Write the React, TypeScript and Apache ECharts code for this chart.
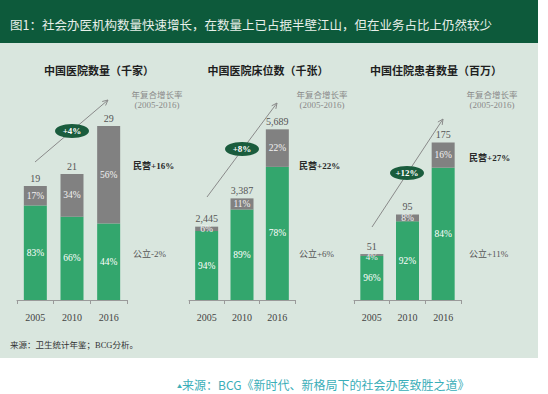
import React, { useEffect, useRef } from "react";
import * as echarts from "echarts";

const years = ["2005", "2010", "2016"];

const hospitalTotals = [19, 21, 29];
const hospitalPublicPct = [83, 66, 44];
const hospitalPrivatePct = [17, 34, 56];

const bedTotals = [2445, 3387, 5689];
const bedPublicPct = [94, 89, 78];
const bedPrivatePct = [6, 11, 22];

const patientTotals = [51, 95, 175];
const patientPublicPct = [96, 92, 84];
const patientPrivatePct = [4, 8, 16];

const panelTitles = ["中国医院数量（千家）", "中国医院床位数（千张）", "中国住院患者数量（百万）"];
const cagrTotal = ["+4%", "+8%", "+12%"];
const cagrPrivate = ["民营+16%", "民营+22%", "民营+27%"];
const cagrPublic = ["公立-2%", "公立+6%", "公立+11%"];

const GREEN = "#33a66d";
const GREY = "#818181";
const DARK = "#1a5c3d";
const SERIF = "'Liberation Serif', 'Noto Sans CJK SC', serif";
const CJK = "'Noto Sans CJK SC', sans-serif";

function fmt(n: number) {
  return n.toLocaleString("en-US");
}

export default function App() {
  const ref = useRef<HTMLDivElement>(null);
  useEffect(() => {
    if (!ref.current) return;
    const chart = echarts.init(ref.current, null, { renderer: "svg" });

    const panels = [
      { totals: hospitalTotals, pub: hospitalPublicPct, pri: hospitalPrivatePct, left: 17, width: 110, max: 30 },
      { totals: bedTotals, pub: bedPublicPct, pri: bedPrivatePct, left: 189, width: 106, max: 6000 },
      { totals: patientTotals, pub: patientPublicPct, pri: patientPrivatePct, left: 354, width: 107, max: 200 },
    ];

    const grids = panels.map((p) => ({ left: p.left, width: p.width, top: 120, height: 180 }));
    const xAxes = panels.map((_, i) => ({
      type: "category",
      gridIndex: i,
      data: years,
      axisLine: { lineStyle: { color: "#9a9a9a", width: 1 } },
      axisTick: { show: true, length: 4, lineStyle: { color: "#9a9a9a" } },
      axisLabel: { color: "#444", fontSize: 10, fontFamily: SERIF, margin: 12 },
    }));
    const yAxes = panels.map((p, i) => ({
      type: "value",
      gridIndex: i,
      min: 0,
      max: p.max,
      show: false,
      splitLine: { show: false },
    }));

    const series: any[] = [];
    panels.forEach((p, i) => {
      series.push({
        type: "bar",
        stack: "s" + i,
        xAxisIndex: i,
        yAxisIndex: i,
        barWidth: 23,
        itemStyle: { color: GREEN },
        label: {
          show: true,
          position: "inside",
          color: "#fff",
          fontSize: 9.5,
          fontFamily: SERIF,
          formatter: (prm: any) => prm.data.pct + "%",
        },
        data: p.totals.map((t, j) => ({ value: (t * p.pub[j]) / 100, pct: p.pub[j] })),
      });
      series.push({
        type: "bar",
        stack: "s" + i,
        xAxisIndex: i,
        yAxisIndex: i,
        barWidth: 23,
        itemStyle: { color: GREY },
        label: {
          show: true,
          position: "inside",
          color: "#f2f2f2",
          fontSize: 9.5,
          fontFamily: SERIF,
          formatter: (prm: any) => prm.data.pct + "%",
        },
        data: p.totals.map((t, j) => {
          const item: any = { value: (t * p.pri[j]) / 100, pct: p.pri[j] };
          if (p.pri[j] < 5) item.label = { offset: [0, 2], fontSize: 9 };
          return item;
        }),
      });
      // total label on top
      series.push({
        type: "bar",
        stack: "s" + i,
        xAxisIndex: i,
        yAxisIndex: i,
        barWidth: 23,
        itemStyle: { color: "transparent" },
        silent: true,
        label: {
          show: true,
          position: "top",
          distance: 3,
          color: "#555",
          fontSize: 10,
          fontFamily: SERIF,
          formatter: (prm: any) => fmt(prm.data.total),
        },
        data: p.totals.map((t) => ({ value: 0, total: t })),
      });
    });

    const arrows = [
      { x1: 35, y1: 162, x2: 108, y2: 100, ex: 72, ey: 131 },
      { x1: 207, y1: 197, x2: 277, y2: 103, ex: 242, ey: 149 },
      { x1: 372, y1: 227, x2: 443, y2: 119, ex: 407, ey: 173 },
    ];
    const titleX = [99, 268, 436];
    const cagrX = [157, 322, 492];
    const sideX = [133, 299, 469];
    const privY = [166, 166, 158];

    const graphics: any[] = [
      { type: "rect", shape: { x: 0, y: 0, width: 538, height: 43 }, style: { fill: "#0d5a3b" }, z: -10 },
      { type: "rect", shape: { x: 0, y: 43, width: 538, height: 315 }, style: { fill: "#d9e6de" }, z: -10 },
      {
        type: "text",
        x: 10,
        y: 24,
        style: {
          text: "图1：社会办医机构数量快速增长，在数量上已占据半壁江山，但在业务占比上仍然较少",
          fill: "#e8f0ea",
          font: "12.5px " + CJK,
          verticalAlign: "middle",
        },
      },
      {
        type: "text",
        x: 10,
        y: 345,
        style: { text: "来源：卫生统计年鉴；BCG分析。", fill: "#333", font: "8.5px " + SERIF, verticalAlign: "middle" },
      },
      {
        type: "text",
        x: 177,
        y: 385,
        style: { text: "▲", fill: "#3fb0b8", font: "5px " + CJK, verticalAlign: "middle" },
      },
      {
        type: "text",
        x: 182,
        y: 384,
        style: { text: "来源：BCG《新时代、新格局下的社会办医致胜之道》", fill: "#3aaeb8", font: "12px " + CJK, verticalAlign: "middle" },
      },
    ];

    arrows.forEach((a, i) => {
      const ang = Math.atan2(a.y2 - a.y1, a.x2 - a.x1);
      const L = 6;
      const spread = 0.45;
      graphics.push({
        type: "line",
        shape: { x1: a.x1, y1: a.y1, x2: a.x2, y2: a.y2 },
        style: { stroke: "#8a8a8a", lineWidth: 1 },
      });
      graphics.push({
        type: "polyline",
        shape: {
          points: [
            [a.x2 - L * Math.cos(ang - spread), a.y2 - L * Math.sin(ang - spread)],
            [a.x2, a.y2],
            [a.x2 - L * Math.cos(ang + spread), a.y2 - L * Math.sin(ang + spread)],
          ],
        },
        style: { stroke: "#8a8a8a", lineWidth: 1, fill: null },
      });
      graphics.push({
        type: "ellipse",
        shape: { cx: a.ex, cy: a.ey, rx: 17, ry: 7 },
        style: { fill: DARK },
        z: 10,
      });
      graphics.push({
        type: "text",
        x: a.ex,
        y: a.ey,
        z: 11,
        style: {
          text: cagrTotal[i],
          fill: "#fff",
          font: "bold 9px " + SERIF,
          align: "center",
          verticalAlign: "middle",
        },
      });
      graphics.push({
        type: "text",
        x: titleX[i],
        y: 70,
        style: {
          text: panelTitles[i],
          fill: "#1e1e1e",
          font: "bold 11px " + CJK,
          align: "center",
          verticalAlign: "middle",
        },
      });
      graphics.push({
        type: "text",
        x: cagrX[i],
        y: 94,
        style: { text: "年复合增长率", fill: "#8a8a8a", font: "8.5px " + CJK, align: "center", verticalAlign: "middle" },
      });
      graphics.push({
        type: "text",
        x: cagrX[i],
        y: 105,
        style: { text: "(2005-2016)", fill: "#8a8a8a", font: "9px " + SERIF, align: "center", verticalAlign: "middle" },
      });
      graphics.push({
        type: "text",
        x: sideX[i],
        y: privY[i],
        style: { text: cagrPrivate[i], fill: "#2a2a2a", font: "bold 9px " + SERIF, verticalAlign: "middle" },
      });
      graphics.push({
        type: "text",
        x: sideX[i],
        y: 254,
        style: { text: cagrPublic[i], fill: "#555", font: "9px " + SERIF, verticalAlign: "middle" },
      });
    });

    chart.setOption({
      animation: false,
      backgroundColor: "#ffffff",
      grid: grids,
      xAxis: xAxes,
      yAxis: yAxes,
      series,
      graphic: graphics,
    });
    return () => chart.dispose();
  }, []);

  return (
    <div
      ref={ref}
      style={{ position: "fixed", left: 0, top: 0, width: 548, height: 394 }}
    />
  );
}
